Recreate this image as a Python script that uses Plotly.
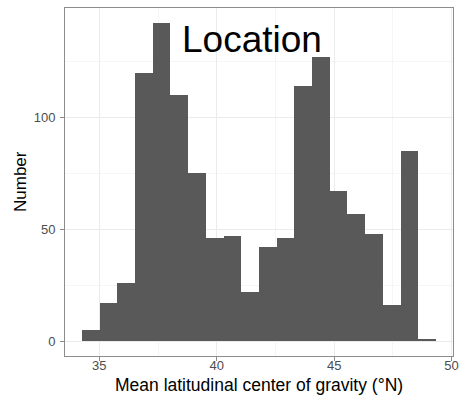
import plotly.graph_objects as go

# Histogram data
bin_start = 34.263
bin_width = 0.7535
counts = [5, 17, 26, 120, 142, 110, 75, 46, 47, 22, 42, 46, 114, 127, 67, 57, 48, 16, 85, 1]
x_ticks = [35, 40, 45, 50]
y_ticks = [0, 50, 100]
title_text = "Location"
x_title = "Mean latitudinal center of gravity (°N)"
y_title = "Number"

centers = [bin_start + bin_width * (i + 0.5) for i in range(len(counts))]

FONT = "Liberation Sans, Arial, sans-serif"
BORDER = "#8c8c8c"

fig = go.Figure()
fig.add_trace(go.Bar(x=centers, y=counts, width=bin_width,
                     marker=dict(color="#595959", line=dict(width=0)),
                     hoverinfo="skip"))

axis_common = dict(showline=True, mirror=True, linecolor=BORDER, linewidth=1,
                   ticks="outside", ticklen=4, tickcolor=BORDER, tickwidth=1,
                   showgrid=True, gridcolor="#ebebeb", gridwidth=1, zeroline=False,
                   tickfont=dict(family=FONT, size=13, color="#4d4d4d"),
                   automargin=False)

fig.update_xaxes(range=[33.54, 50.06], tickvals=x_ticks, ticklabelstandoff=-7,
                 minor=dict(showgrid=True, gridcolor="#f5f5f5", gridwidth=1, dtick=2.5, tick0=35),
                 **axis_common)
fig.update_yaxes(range=[-6.56, 148.8], tickvals=y_ticks, ticklabelstandoff=2,
                 minor=dict(showgrid=True, gridcolor="#f5f5f5", gridwidth=1, dtick=25, tick0=0),
                 **axis_common)

fig.add_annotation(x=41.49, y=134.7, xref="x", yref="y", text=title_text, showarrow=False,
                   font=dict(family=FONT, size=37, color="black"),
                   xanchor="center", yanchor="middle")
fig.add_annotation(x=0.5, y=0, xref="paper", yref="paper", text=x_title, showarrow=False,
                   font=dict(family=FONT, size=17.5, color="black"),
                   xanchor="center", yanchor="middle", yshift=-29)
fig.add_annotation(x=0, y=0.5, xref="paper", yref="paper", text=y_title, showarrow=False,
                   font=dict(family=FONT, size=17, color="black"), textangle=-90,
                   xanchor="center", yanchor="middle", xshift=-45)

fig.update_layout(width=460, height=397, margin=dict(l=65, r=7, t=8, b=41),
                  plot_bgcolor="white", paper_bgcolor="white", showlegend=False,
                  bargap=0)

fig.write_html("out.html")
